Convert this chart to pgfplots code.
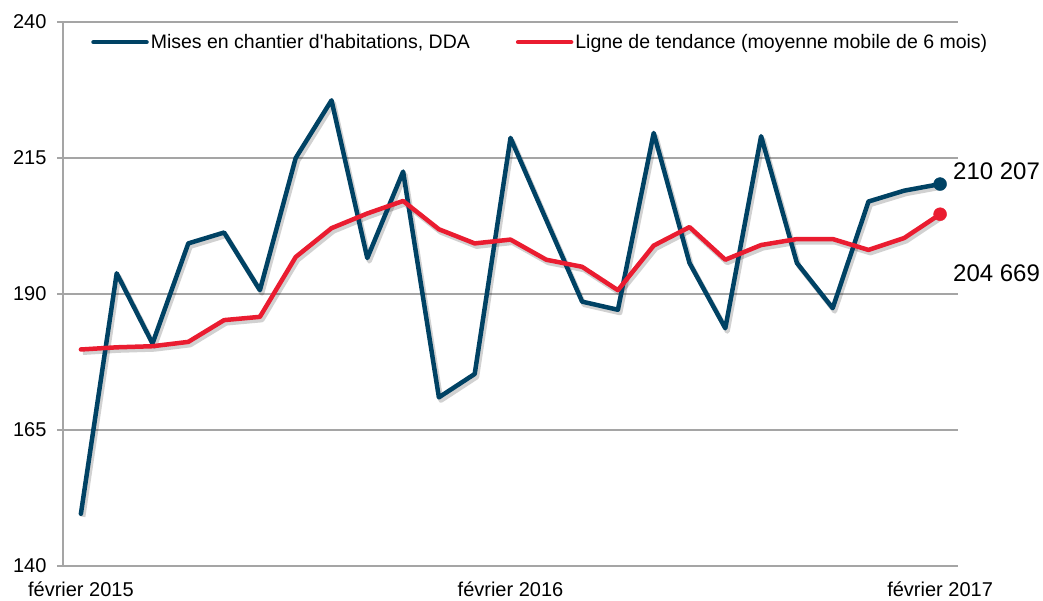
\documentclass[border=0pt]{standalone}
\usepackage{pgfplots}
\pgfplotsset{compat=1.18}
\usepackage{fontspec}
\setmainfont{Liberation Sans}
\definecolor{cblue}{RGB}{0,66,100}
\definecolor{cred}{RGB}{234,28,48}
\definecolor{cgrid}{RGB}{165,165,165}
\pgfplotstableread{
x y
0 149.6
1 193.8
2 180.9
3 199.3
4 201.3
5 190.7
6 215.0
7 225.6
8 196.6
9 212.5
10 171.0
11 175.3
12 218.7
13 203.6
14 188.6
15 187.1
16 219.6
17 195.7
18 183.7
19 219.0
20 195.7
21 187.4
22 207.0
23 209.0
24 210.207
}\mises
\pgfplotstableread{
x y
0 179.8
1 180.2
2 180.4
3 181.2
4 185.2
5 185.8
6 196.8
7 202.1
8 204.8
9 207.1
10 201.9
11 199.3
12 200.0
13 196.3
14 195.0
15 190.7
16 198.9
17 202.3
18 196.3
19 199.0
20 200.1
21 200.1
22 198.1
23 200.3
24 204.669
}\tendance
\begin{document}
\begin{tikzpicture}
\begin{axis}[
  scale only axis,
  width=895pt, height=544pt,
  xmin=-0.5, xmax=24.5,
  ymin=140, ymax=240,
  ytick={140,165,190,215,240},
  xtick={0,12,24},
  xticklabels={février 2015,février 2016,février 2017},
  axis x line*=bottom,
  axis y line*=left,
  axis line style={cgrid, line width=1.2pt, -},
  ymajorgrids,
  grid style={cgrid, line width=1.2pt},
  tick align=outside,
  major tick length=6pt,
  ytick style={cgrid, line width=1.2pt},
  xtick style={draw=none},
  tick label style={font=\fontsize{20}{24}\selectfont, text=black},
  yticklabel style={xshift=-7pt},
  xticklabel style={yshift=-6pt},
  /pgf/number format/assume math mode=true,
  clip=false,
  legend columns=2,
  legend style={draw=none, fill=none, at={(0.028,0.985)}, anchor=north west,
    font=\fontsize{19.5}{23}\selectfont,
    /tikz/every even column/.append style={column sep=44pt},
    nodes={inner sep=2pt}},
  legend image code/.code={\draw[#1] (0pt,0pt) -- (53pt,0pt);},
]
\addplot[draw=black, opacity=0.18, line width=5pt, line join=round, forget plot, xshift=2pt, yshift=-3pt] table[x=x,y=y]{\mises};
\addplot[draw=black, opacity=0.18, line width=5pt, line join=round, forget plot, xshift=2pt, yshift=-3pt] table[x=x,y=y]{\tendance};
\addplot[cblue, line width=4.5pt, line join=round, line cap=round] table[x=x,y=y]{\mises};
\addlegendentry{Mises en chantier d\textquotesingle habitations, DDA}
\addplot[cred, line width=4.5pt, line join=round, line cap=round] table[x=x,y=y]{\tendance};
\addlegendentry{Ligne de tendance (moyenne mobile de 6 mois)}
\addplot[cblue, only marks, mark=*, mark size=6.5pt, forget plot] coordinates {(24,210.207)};
\addplot[cred, only marks, mark=*, mark size=6.5pt, forget plot] coordinates {(24,204.669)};
\node[anchor=west, inner sep=0pt, font=\fontsize{24}{28}\selectfont] at (axis cs:24.36,212.5) {210 207};
\node[anchor=west, inner sep=0pt, font=\fontsize{24}{28}\selectfont] at (axis cs:24.36,193.9) {204 669};
\end{axis}
\pgfresetboundingbox
\path[use as bounding box] ([shift={(-63pt,-34pt)}]current axis.south west) rectangle ([shift={(85pt,22pt)}]current axis.north east);
\end{tikzpicture}
\end{document}
